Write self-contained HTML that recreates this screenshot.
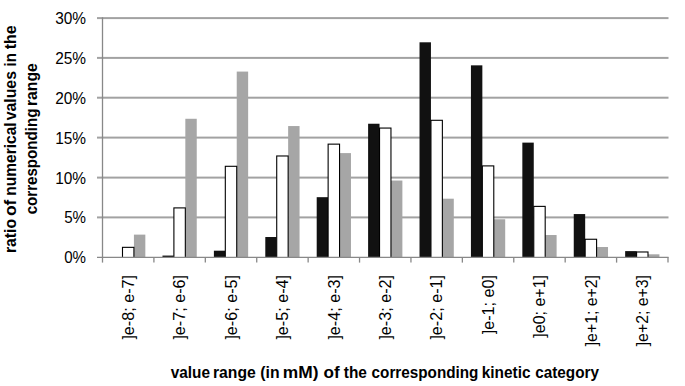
<!DOCTYPE html>
<html><head><meta charset="utf-8"><style>
html,body{margin:0;padding:0;background:#fff;}
body{width:685px;height:386px;overflow:hidden;}
svg{display:block;font-family:"Liberation Sans",sans-serif;}
text{fill:#000;}
</style></head><body>
<svg width="685" height="386" viewBox="0 0 685 386">
<rect width="685" height="386" fill="#fff"/>
<rect x="97" y="216.40" width="571.50" height="2.0" fill="#a2a2a2"/>
<rect x="97" y="176.60" width="571.50" height="2.0" fill="#a2a2a2"/>
<rect x="97" y="136.60" width="571.50" height="2.0" fill="#a2a2a2"/>
<rect x="97" y="96.70" width="571.50" height="2.0" fill="#a2a2a2"/>
<rect x="97" y="56.90" width="571.50" height="2.0" fill="#a2a2a2"/>
<rect x="97" y="17.10" width="571.50" height="2.0" fill="#a2a2a2"/>
<rect x="133.92" y="234.62" width="11.42" height="23.68" fill="#a6a6a6"/>
<rect x="122.49" y="247.34" width="11.42" height="12.96" fill="#fff" stroke="#000" stroke-width="1.1"/>
<rect x="162.48" y="255.58" width="11.42" height="2.72" fill="#111111"/>
<rect x="185.33" y="118.78" width="11.42" height="139.52" fill="#a6a6a6"/>
<rect x="173.90" y="207.90" width="11.42" height="52.40" fill="#fff" stroke="#000" stroke-width="1.1"/>
<rect x="213.89" y="250.70" width="11.42" height="7.60" fill="#111111"/>
<rect x="236.73" y="71.58" width="11.42" height="186.72" fill="#a6a6a6"/>
<rect x="225.31" y="166.30" width="11.42" height="94.00" fill="#fff" stroke="#000" stroke-width="1.1"/>
<rect x="265.30" y="237.02" width="11.42" height="21.28" fill="#111111"/>
<rect x="288.14" y="126.06" width="11.42" height="132.24" fill="#a6a6a6"/>
<rect x="276.72" y="155.98" width="11.42" height="104.32" fill="#fff" stroke="#000" stroke-width="1.1"/>
<rect x="316.70" y="197.18" width="11.42" height="61.12" fill="#111111"/>
<rect x="339.55" y="153.10" width="11.42" height="105.20" fill="#a6a6a6"/>
<rect x="328.13" y="144.14" width="11.42" height="116.16" fill="#fff" stroke="#000" stroke-width="1.1"/>
<rect x="368.11" y="123.74" width="11.42" height="134.56" fill="#111111"/>
<rect x="390.96" y="180.54" width="11.42" height="77.76" fill="#a6a6a6"/>
<rect x="379.54" y="128.06" width="11.42" height="132.24" fill="#fff" stroke="#000" stroke-width="1.1"/>
<rect x="419.52" y="42.30" width="11.42" height="216.00" fill="#111111"/>
<rect x="442.37" y="198.70" width="11.42" height="59.60" fill="#a6a6a6"/>
<rect x="430.95" y="120.30" width="11.42" height="140.00" fill="#fff" stroke="#000" stroke-width="1.1"/>
<rect x="470.93" y="65.34" width="11.42" height="192.96" fill="#111111"/>
<rect x="493.78" y="219.26" width="11.42" height="39.04" fill="#a6a6a6"/>
<rect x="482.36" y="165.90" width="11.42" height="94.40" fill="#fff" stroke="#000" stroke-width="1.1"/>
<rect x="522.34" y="142.62" width="11.42" height="115.68" fill="#111111"/>
<rect x="545.19" y="235.02" width="11.42" height="23.28" fill="#a6a6a6"/>
<rect x="533.77" y="206.38" width="11.42" height="53.92" fill="#fff" stroke="#000" stroke-width="1.1"/>
<rect x="573.75" y="214.06" width="11.42" height="44.24" fill="#111111"/>
<rect x="596.60" y="247.02" width="11.42" height="11.28" fill="#a6a6a6"/>
<rect x="585.17" y="239.26" width="11.42" height="21.04" fill="#fff" stroke="#000" stroke-width="1.1"/>
<rect x="625.16" y="251.10" width="11.42" height="7.20" fill="#111111"/>
<rect x="648.01" y="254.30" width="11.42" height="4.00" fill="#a6a6a6"/>
<rect x="636.58" y="251.98" width="11.42" height="8.32" fill="#fff" stroke="#000" stroke-width="1.1"/>
<rect x="0" y="257.90" width="685" height="12" fill="#fff"/>
<line x1="102.50" y1="17.32" x2="102.50" y2="262.60" stroke="#888888" stroke-width="1.3"/>
<line x1="97" y1="257.30" x2="668.60" y2="257.30" stroke="#888888" stroke-width="1.3"/>
<line x1="153.91" y1="257.30" x2="153.91" y2="262.60" stroke="#888888" stroke-width="1.3"/>
<line x1="205.32" y1="257.30" x2="205.32" y2="262.60" stroke="#888888" stroke-width="1.3"/>
<line x1="256.73" y1="257.30" x2="256.73" y2="262.60" stroke="#888888" stroke-width="1.3"/>
<line x1="308.14" y1="257.30" x2="308.14" y2="262.60" stroke="#888888" stroke-width="1.3"/>
<line x1="359.55" y1="257.30" x2="359.55" y2="262.60" stroke="#888888" stroke-width="1.3"/>
<line x1="410.95" y1="257.30" x2="410.95" y2="262.60" stroke="#888888" stroke-width="1.3"/>
<line x1="462.36" y1="257.30" x2="462.36" y2="262.60" stroke="#888888" stroke-width="1.3"/>
<line x1="513.77" y1="257.30" x2="513.77" y2="262.60" stroke="#888888" stroke-width="1.3"/>
<line x1="565.18" y1="257.30" x2="565.18" y2="262.60" stroke="#888888" stroke-width="1.3"/>
<line x1="616.59" y1="257.30" x2="616.59" y2="262.60" stroke="#888888" stroke-width="1.3"/>
<line x1="668.00" y1="257.30" x2="668.00" y2="262.60" stroke="#888888" stroke-width="1.3"/>
<text x="86" y="263.30" text-anchor="end" font-size="16" textLength="21.81" lengthAdjust="spacingAndGlyphs">0%</text>
<text x="86" y="223.42" text-anchor="end" font-size="16" textLength="21.81" lengthAdjust="spacingAndGlyphs">5%</text>
<text x="86" y="183.54" text-anchor="end" font-size="16" textLength="30.86" lengthAdjust="spacingAndGlyphs">10%</text>
<text x="86" y="143.66" text-anchor="end" font-size="16" textLength="30.86" lengthAdjust="spacingAndGlyphs">15%</text>
<text x="86" y="103.78" text-anchor="end" font-size="16" textLength="30.86" lengthAdjust="spacingAndGlyphs">20%</text>
<text x="86" y="63.90" text-anchor="end" font-size="16" textLength="30.86" lengthAdjust="spacingAndGlyphs">25%</text>
<text x="86" y="24.02" text-anchor="end" font-size="16" textLength="30.86" lengthAdjust="spacingAndGlyphs">30%</text>
<text transform="translate(133.90,275.0) rotate(-90)" text-anchor="end" font-size="16" textLength="64.64" lengthAdjust="spacingAndGlyphs">]e-8; e-7]</text>
<text transform="translate(185.31,275.0) rotate(-90)" text-anchor="end" font-size="16" textLength="64.64" lengthAdjust="spacingAndGlyphs">]e-7; e-6]</text>
<text transform="translate(236.72,275.0) rotate(-90)" text-anchor="end" font-size="16" textLength="64.64" lengthAdjust="spacingAndGlyphs">]e-6; e-5]</text>
<text transform="translate(288.13,275.0) rotate(-90)" text-anchor="end" font-size="16" textLength="64.64" lengthAdjust="spacingAndGlyphs">]e-5; e-4]</text>
<text transform="translate(339.54,275.0) rotate(-90)" text-anchor="end" font-size="16" textLength="64.64" lengthAdjust="spacingAndGlyphs">]e-4; e-3]</text>
<text transform="translate(390.95,275.0) rotate(-90)" text-anchor="end" font-size="16" textLength="64.64" lengthAdjust="spacingAndGlyphs">]e-3; e-2]</text>
<text transform="translate(442.36,275.0) rotate(-90)" text-anchor="end" font-size="16" textLength="64.64" lengthAdjust="spacingAndGlyphs">]e-2; e-1]</text>
<text transform="translate(493.77,275.0) rotate(-90)" text-anchor="end" font-size="16" textLength="59.34" lengthAdjust="spacingAndGlyphs">]e-1; e0]</text>
<text transform="translate(545.18,275.0) rotate(-90)" text-anchor="end" font-size="16" textLength="62.67" lengthAdjust="spacingAndGlyphs">]e0; e+1]</text>
<text transform="translate(596.59,275.0) rotate(-90)" text-anchor="end" font-size="16" textLength="71.30" lengthAdjust="spacingAndGlyphs">]e+1; e+2]</text>
<text transform="translate(648.00,275.0) rotate(-90)" text-anchor="end" font-size="16" textLength="71.30" lengthAdjust="spacingAndGlyphs">]e+2; e+3]</text>
<text x="170.78" y="377.5" font-weight="bold" font-size="16" textLength="39.24" lengthAdjust="spacingAndGlyphs">value</text>
<text x="213.0" y="377.5" font-weight="bold" font-size="16" textLength="42.76" lengthAdjust="spacingAndGlyphs">range</text>
<text x="260.26" y="377.5" font-weight="bold" font-size="16" textLength="19.27" lengthAdjust="spacingAndGlyphs">(in</text>
<text x="282.88" y="377.5" font-weight="bold" font-size="16" textLength="35.64" lengthAdjust="spacingAndGlyphs">mM)</text>
<text x="323.63" y="377.5" font-weight="bold" font-size="16" textLength="16.14" lengthAdjust="spacingAndGlyphs">of</text>
<text x="343.76" y="377.5" font-weight="bold" font-size="16" textLength="23.12" lengthAdjust="spacingAndGlyphs">the</text>
<text x="371.6" y="377.5" font-weight="bold" font-size="16" textLength="106.86" lengthAdjust="spacingAndGlyphs">corresponding</text>
<text x="481.72" y="377.5" font-weight="bold" font-size="16" textLength="48.8" lengthAdjust="spacingAndGlyphs">kinetic</text>
<text x="535.2" y="377.5" font-weight="bold" font-size="16" textLength="63.76" lengthAdjust="spacingAndGlyphs">category</text>
<text transform="translate(15.5,0) rotate(-90)" x="-253.11" font-weight="bold" font-size="16" textLength="34.17" lengthAdjust="spacingAndGlyphs">ratio</text>
<text transform="translate(15.5,0) rotate(-90)" x="-216.08" font-weight="bold" font-size="16" textLength="16.46" lengthAdjust="spacingAndGlyphs">of</text>
<text transform="translate(15.5,0) rotate(-90)" x="-195.79" font-weight="bold" font-size="16" textLength="73.45" lengthAdjust="spacingAndGlyphs">numerical</text>
<text transform="translate(15.5,0) rotate(-90)" x="-120.22" font-weight="bold" font-size="16" textLength="49.15" lengthAdjust="spacingAndGlyphs">values</text>
<text transform="translate(15.5,0) rotate(-90)" x="-66.45" font-weight="bold" font-size="16" textLength="13.25" lengthAdjust="spacingAndGlyphs">in</text>
<text transform="translate(15.5,0) rotate(-90)" x="-49.25" font-weight="bold" font-size="16" textLength="23.95" lengthAdjust="spacingAndGlyphs">the</text>
<text transform="translate(37.2,0) rotate(-90)" x="-214.29" font-weight="bold" font-size="16" textLength="105.64" lengthAdjust="spacingAndGlyphs">corresponding</text>
<text transform="translate(37.2,0) rotate(-90)" x="-106.0" font-weight="bold" font-size="16" textLength="42.76" lengthAdjust="spacingAndGlyphs">range</text>
</svg>
</body></html>
